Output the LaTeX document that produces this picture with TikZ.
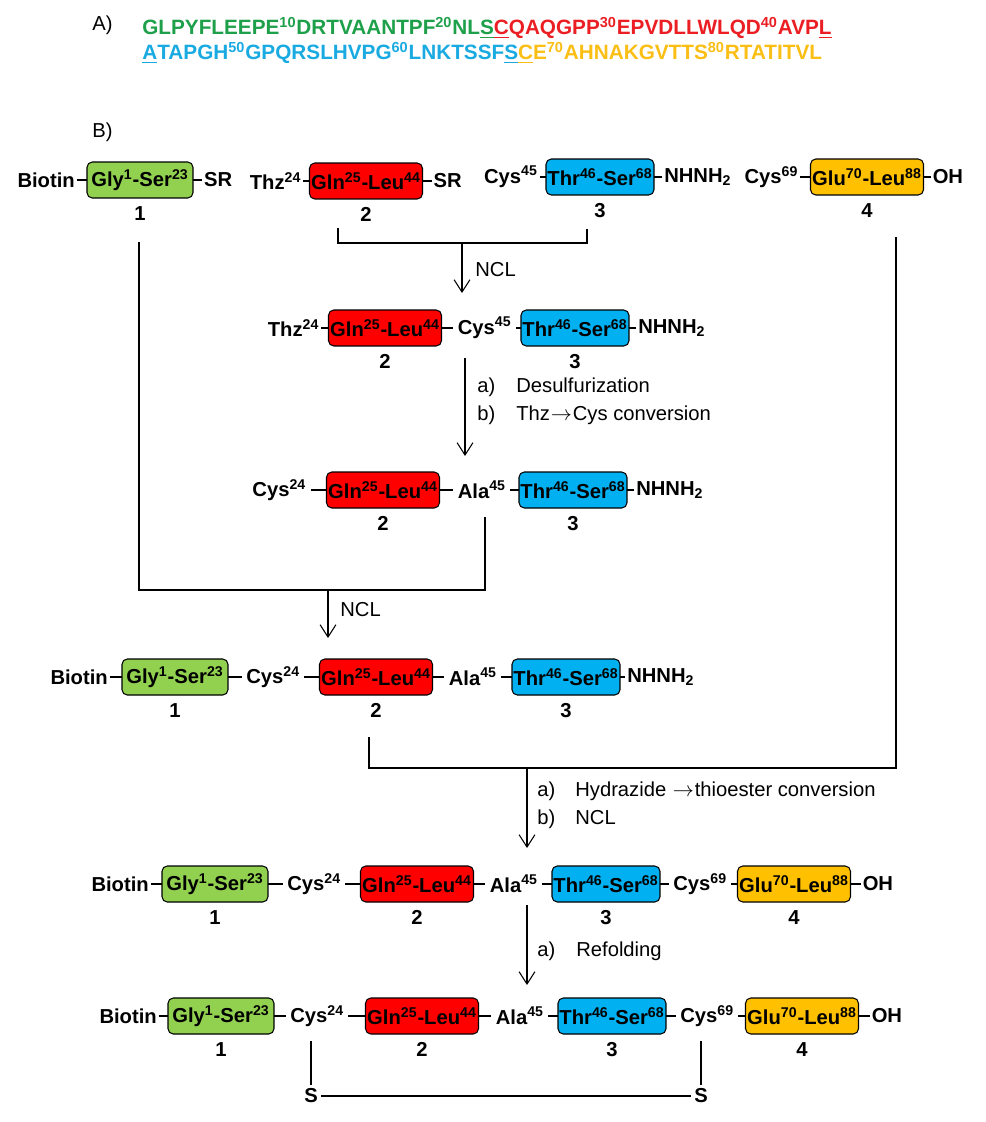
\documentclass[tikz,border=0pt]{standalone}
\usepackage{fontspec}
\setmainfont{Liberation Sans}
\usetikzlibrary{arrows.meta,positioning}

\definecolor{seqgreen}{RGB}{30,160,75}
\definecolor{seqred}{RGB}{235,30,35}
\definecolor{seqblue}{RGB}{25,170,225}
\definecolor{seqorange}{RGB}{250,190,20}
\definecolor{boxgreen}{RGB}{146,208,80}
\definecolor{boxred}{RGB}{255,0,0}
\definecolor{boxblue}{RGB}{0,176,240}
\definecolor{boxorange}{RGB}{255,192,0}

\newcommand{\rsup}[1]{\textsuperscript{#1}}
\newcommand{\mainfs}{\fontsize{11.5}{13}\selectfont}
\newcommand{\convarr}{\kern0.5pt$\rightarrow$\kern0.5pt}

\begin{document}
\begin{tikzpicture}[
  x=0.02cm, y=-0.02cm,
  every node/.style={font=\mainfs},
  seg/.style={draw, rounded corners=3pt, minimum height=0.72cm, inner sep=0pt,
              outer sep=0pt, line width=0.6pt, font=\mainfs\bfseries},
  gseg/.style={seg, fill=boxgreen, minimum width=2.12cm},
  rseg/.style={seg, fill=boxred, minimum width=2.26cm},
  bseg/.style={seg, fill=boxblue, minimum width=2.16cm},
  oseg/.style={seg, fill=boxorange, minimum width=2.26cm},
  res/.style={inner sep=1pt, outer sep=0pt, font=\mainfs\bfseries},
  mid/.style={res, inner sep=2.5pt},
  num/.style={inner sep=1pt, font=\mainfs\bfseries},
  cond/.style={anchor=base west, inner sep=0pt},
  link/.style={line width=0.6pt},
  arr/.style={line width=0.6pt, -{Straight Barb[length=7pt,width=9pt]}}
]
\useasboundingbox (0,0) rectangle (985,1122);

% A) sequence
\node[cond] (lblA) at (92,31) {A)};
\node[cond, font=\fontsize{11.8}{13}\selectfont\bfseries] (seq1) at (142,35)
  {\color{seqgreen}GLPYFLEEPE\rsup{10}DRTVAANTPF\rsup{20}NL\underline{S}\color{seqred}\underline{C}QAQGPP\rsup{30}EPVDLLWLQD\rsup{40}AVP\underline{L}};
\node[cond, font=\fontsize{11.8}{13}\selectfont\bfseries] (seq2) at (142,60)
  {\color{seqblue}\underline{A}TAPGH\rsup{50}GPQRSLHVPG\rsup{60}LNKTSSF\underline{S}\color{seqorange}\underline{C}E\rsup{70}AHNAKGVTTS\rsup{80}RTATITVL};

% B) scheme
\node[cond] (lblB) at (92,137) {B)};

% row 1: the four segments
\node[gseg] (g1) at (140,180) {Gly\rsup{1}-Ser\rsup{23}};
\node[res, left=0.21cm of g1] (bio1) {Biotin};
\node[res, right=0.19cm of g1] (sr1) {SR};
\node[num, below=0.12cm of g1] (n1a) {1};
\node[rseg] (r1) at (366,181) {Gln\rsup{25}-Leu\rsup{44}};
\node[res, left=0.13cm of r1] (thz1) {Thz\rsup{24}};
\node[res, right=0.19cm of r1] (sr2) {SR};
\node[num, below=0.12cm of r1] (n2a) {2};
\node[bseg] (b1) at (600,177) {Thr\rsup{46}-Ser\rsup{68}};
\node[res, left=0.13cm of b1] (cys45a) {Cys\rsup{45}};
\node[res, right=0.17cm of b1] (nh1) {NHNH\textsubscript{2}};
\node[num, below=0.12cm of b1] (n3a) {3};
\node[oseg] (o1) at (867,177) {Glu\rsup{70}-Leu\rsup{88}};
\node[res, left=0.21cm of o1] (cys69a) {Cys\rsup{69}};
\node[res, right=0.15cm of o1] (oh1) {OH};
\node[num, below=0.12cm of o1] (n4a) {4};
\draw[link] (bio1) -- (g1);
\draw[link] (g1) -- (sr1);
\draw[link] (thz1) -- (r1);
\draw[link] (r1) -- (sr2);
\draw[link] (cys45a) -- (b1);
\draw[link] (b1) -- (nh1);
\draw[link] (cys69a) -- (o1);
\draw[link] (o1) -- (oh1);

% first ligation
\coordinate (k1l) at (338,228);
\coordinate (k1r) at (587,229);
\coordinate (k1m) at (462,243);
\coordinate (k1t) at (462,293);
\draw[link] (k1l) |- (k1m) -| (k1r);
\draw[arr] (k1m) -- (k1t);
\node[cond] (ncl1) at (475,276) {NCL};

% row 2
\node[rseg] (r2) at (385,328) {Gln\rsup{25}-Leu\rsup{44}};
\node[res, left=0.15cm of r2] (thz2) {Thz\rsup{24}};
\node[mid, right=0.24cm of r2] (cys45b) {Cys\rsup{45}};
\node[num, below=0.12cm of r2] (n2b) {2};
\node[bseg] (b2) at (575,328) {Thr\rsup{46}-Ser\rsup{68}};
\node[res, right=0.15cm of b2] (nh2) {NHNH\textsubscript{2}};
\node[num, below=0.12cm of b2] (n3b) {3};
\draw[link] (thz2) -- (r2);
\draw[link] (r2) -- (cys45b);
\draw[link] (cys45b) -- (b2);
\draw[link] (b2) -- (nh2);

\coordinate (a2s) at (465,358);
\coordinate (a2t) at (465,456);
\draw[arr] (a2s) -- (a2t);
\node[cond] (stepa2) at (477,392) {\makebox[0.78cm][l]{a)}Desulfurization};
\node[cond] (stepb2) at (477,420) {\makebox[0.78cm][l]{b)}Thz\convarr Cys conversion};

% row 3
\node[rseg] (r3) at (383,490) {Gln\rsup{25}-Leu\rsup{44}};
\node[mid, left=0.32cm of r3] (cys24a) {Cys\rsup{24}};
\node[mid, right=0.28cm of r3] (ala45a) {Ala\rsup{45}};
\node[num, below=0.12cm of r3] (n2c) {2};
\node[bseg] (b3) at (573,490) {Thr\rsup{46}-Ser\rsup{68}};
\node[res, right=0.15cm of b3] (nh3) {NHNH\textsubscript{2}};
\node[num, below=0.12cm of b3] (n3c) {3};
\draw[link] (cys24a) -- (r3);
\draw[link] (r3) -- (ala45a);
\draw[link] (ala45a) -- (b3);
\draw[link] (b3) -- (nh3);

% second ligation
\coordinate (k2l) at (139,242);
\coordinate (k2r) at (485,517);
\coordinate (k2m) at (328,590);
\coordinate (k2t) at (328,638);
\draw[link] (k2l) |- (k2m) -| (k2r);
\draw[arr] (k2m) -- (k2t);
\node[cond] (ncl2) at (340,616) {NCL};

% row 4
\node[gseg] (g4) at (175,677) {Gly\rsup{1}-Ser\rsup{23}};
\node[res, left=0.25cm of g4] (bio4) {Biotin};
\node[mid, right=0.28cm of g4] (cys24b) {Cys\rsup{24}};
\node[num, below=0.12cm of g4] (n1d) {1};
\node[rseg] (r4) at (376,677) {Gln\rsup{25}-Leu\rsup{44}};
\node[mid, right=0.24cm of r4] (ala45b) {Ala\rsup{45}};
\node[num, below=0.12cm of r4] (n2d) {2};
\node[bseg] (b4) at (566,677) {Thr\rsup{46}-Ser\rsup{68}};
\node[res, right=0.11cm of b4] (nh4) {NHNH\textsubscript{2}};
\node[num, below=0.12cm of b4] (n3d) {3};
\draw[link] (bio4) -- (g4);
\draw[link] (g4) -- (cys24b);
\draw[link] (cys24b) -- (r4);
\draw[link] (r4) -- (ala45b);
\draw[link] (ala45b) -- (b4);
\draw[link] (b4) -- (nh4);

% third ligation
\coordinate (k3l) at (369,737);
\coordinate (k3r) at (896,237);
\coordinate (k3m) at (527,768);
\coordinate (k3t) at (527,848);
\draw[link] (k3l) |- (k3m) -| (k3r);
\draw[arr] (k3m) -- (k3t);
\node[cond] (stepa3) at (537,796) {\makebox[0.76cm][l]{a)}Hydrazide \convarr thioester conversion};
\node[cond] (stepb3) at (537,824) {\makebox[0.76cm][l]{b)}NCL};

% row 5
\node[gseg] (g5) at (215,884) {Gly\rsup{1}-Ser\rsup{23}};
\node[res, left=0.23cm of g5] (bio5) {Biotin};
\node[mid, right=0.3cm of g5] (cys24c) {Cys\rsup{24}};
\node[num, below=0.12cm of g5] (n1e) {1};
\node[rseg] (r5) at (417,884) {Gln\rsup{25}-Leu\rsup{44}};
\node[mid, right=0.24cm of r5] (ala45c) {Ala\rsup{45}};
\node[num, below=0.12cm of r5] (n2e) {2};
\node[bseg] (b5) at (606,884) {Thr\rsup{46}-Ser\rsup{68}};
\node[mid, right=0.18cm of b5] (cys69b) {Cys\rsup{69}};
\node[num, below=0.12cm of b5] (n3e) {3};
\node[oseg] (o5) at (794,884) {Glu\rsup{70}-Leu\rsup{88}};
\node[res, right=0.21cm of o5] (oh5) {OH};
\node[num, below=0.12cm of o5] (n4e) {4};
\draw[link] (bio5) -- (g5);
\draw[link] (g5) -- (cys24c);
\draw[link] (cys24c) -- (r5);
\draw[link] (r5) -- (ala45c);
\draw[link] (ala45c) -- (b5);
\draw[link] (b5) -- (cys69b);
\draw[link] (cys69b) -- (o5);
\draw[link] (o5) -- (oh5);

\coordinate (a4s) at (527,905);
\coordinate (a4t) at (527,985);
\draw[arr] (a4s) -- (a4t);
\node[cond] (stepa4) at (537,956) {\makebox[0.78cm][l]{a)}Refolding};

% row 6
\node[gseg] (g6) at (221,1016) {Gly\rsup{1}-Ser\rsup{23}};
\node[res, left=0.19cm of g6] (bio6) {Biotin};
\node[mid, right=0.24cm of g6] (cys24d) {Cys\rsup{24}};
\node[num, below=0.12cm of g6] (n1f) {1};
\node[rseg] (r6) at (422,1016) {Gln\rsup{25}-Leu\rsup{44}};
\node[mid, right=0.26cm of r6] (ala45d) {Ala\rsup{45}};
\node[num, below=0.12cm of r6] (n2f) {2};
\node[bseg] (b6) at (612,1016) {Thr\rsup{46}-Ser\rsup{68}};
\node[mid, right=0.2cm of b6] (cys69c) {Cys\rsup{69}};
\node[num, below=0.12cm of b6] (n3f) {3};
\node[oseg] (o6) at (802,1016) {Glu\rsup{70}-Leu\rsup{88}};
\node[res, right=0.23cm of o6] (oh6) {OH};
\node[num, below=0.12cm of o6] (n4f) {4};
\draw[link] (bio6) -- (g6);
\draw[link] (g6) -- (cys24d);
\draw[link] (cys24d) -- (r6);
\draw[link] (r6) -- (ala45d);
\draw[link] (ala45d) -- (b6);
\draw[link] (b6) -- (cys69c);
\draw[link] (cys69c) -- (o6);
\draw[link] (o6) -- (oh6);

% disulfide bridge
\node[res, inner sep=2pt] (s1) at (311,1096) {S};
\node[res, inner sep=2pt] (s2) at (701,1096) {S};
\draw[link, shorten >=0.2cm] (s1) -- (s1 |- cys24d.south);
\draw[link, shorten >=0.2cm] (s2) -- (s2 |- cys69c.south);
\draw[link] (s1) -- (s2);
\end{tikzpicture}
\end{document}
